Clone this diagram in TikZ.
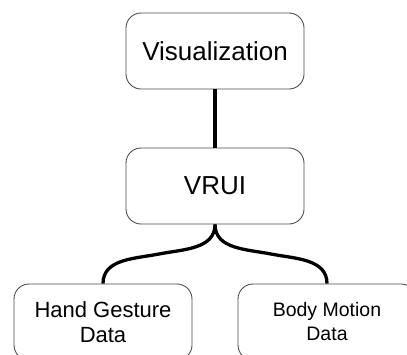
\documentclass[tikz,border=0pt]{standalone}
\usepackage{fontspec}
\setmainfont{Liberation Sans}
\usetikzlibrary{calc}

\tikzset{
	box/.style={draw=black!70, line width=0.9pt, rounded corners=15pt,
		minimum width=178pt, minimum height=76pt, align=center, inner sep=0pt},
	bigtext/.style={font=\fontsize{26}{30}\selectfont},
	smalltext/.style={font=\fontsize{22}{25}\selectfont},
	tinytext/.style={font=\fontsize{19.5}{24}\selectfont},
	link/.style={line width=3.3pt, black}
}

\begin{document}
\begin{tikzpicture}[x=1pt, y=1pt]

\useasboundingbox (0,0) rectangle (407,-354);
\clip (0,0) rectangle (407,-354);

\node[box, bigtext] (vis) at (215,-51) {Visualization};
\node[box, bigtext] (vrui) at (215,-186) {VRUI};
\node[box, smalltext] (hand) at (103,-322) {Hand Gesture\\Data};
\node[box, tinytext] (body) at (327,-322) {Body Motion\\Data};

\draw[link] (vis) -- (vrui);

% brace shaped links
\coordinate (lmid) at ($(vrui.south)!0.5!(hand.north)$);
\coordinate (rmid) at ($(vrui.south)!0.5!(body.north)$);
\draw[link] (vrui.south) to[out=-90, in=11] (lmid) to[out=191, in=90] (hand.north);
\draw[link] (vrui.south) to[out=-90, in=169] (rmid) to[out=-11, in=90] (body.north);

\end{tikzpicture}
\end{document}
